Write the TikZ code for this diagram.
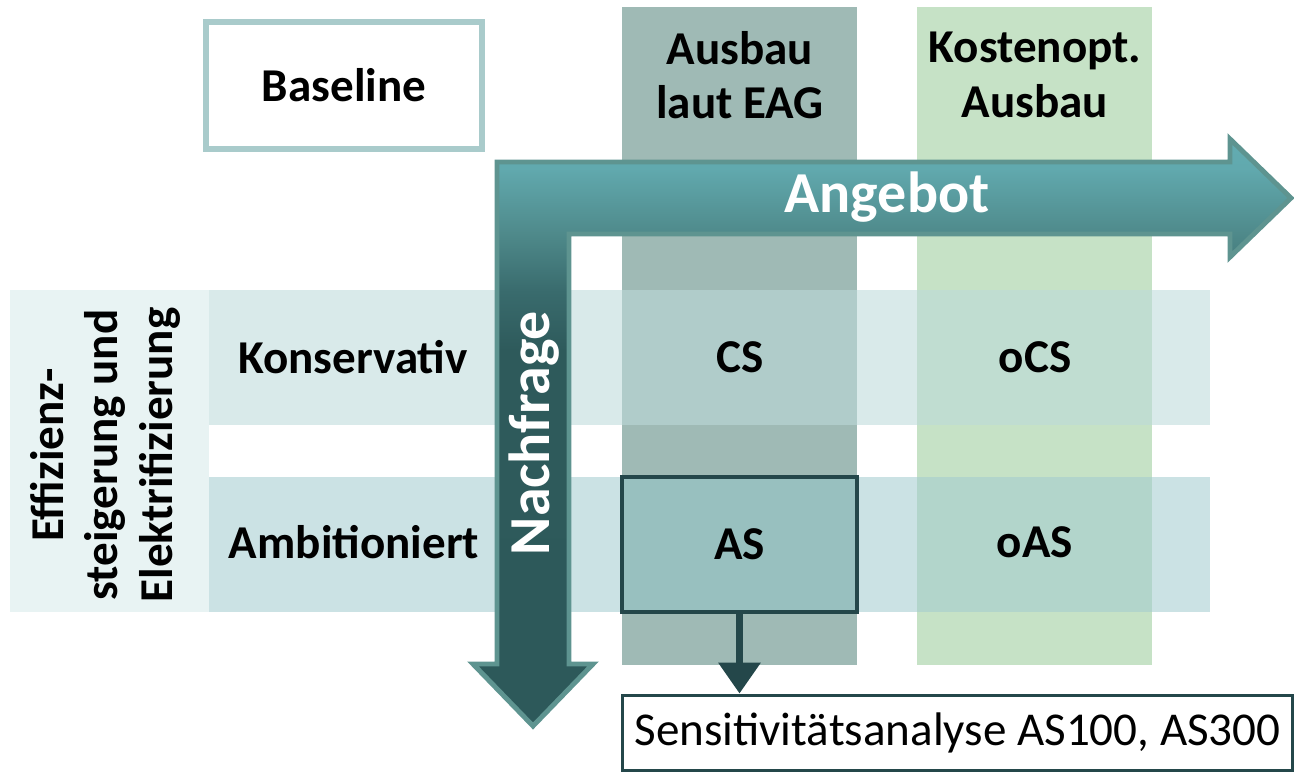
\documentclass[tikz,border=0pt]{standalone}
\usepackage{fontspec}
\setmainfont{Carlito}
\usetikzlibrary{arrows.meta}
\usetikzlibrary{positioning}

\definecolor{eagcol}{RGB}{159,186,181}
\definecolor{optcol}{RGB}{198,226,198}
\definecolor{bandcol}{RGB}{232,243,243}
\definecolor{konscol}{RGB}{189,218,218}
\definecolor{ambicol}{RGB}{163,204,208}
\definecolor{ascol}{RGB}{152,192,191}
\definecolor{basecol}{RGB}{169,203,203}
\definecolor{arrowrim}{RGB}{94,148,144}
\definecolor{darkteal}{RGB}{36,71,74}
\definecolor{shadeA}{RGB}{45,89,90}
\definecolor{shadeB}{RGB}{46,90,91}
\definecolor{shadeC}{RGB}{57,107,109}
\definecolor{shadeD}{RGB}{79,138,139}
\definecolor{shadeE}{RGB}{97,169,174}
\definecolor{shadeF}{RGB}{99,172,177}
\pgfdeclareverticalshading{lshade}{100bp}{color(0bp)=(shadeA); color(25bp)=(shadeA); color(57bp)=(shadeB); color(62bp)=(shadeC); color(67bp)=(shadeD); color(72.5bp)=(shadeE); color(75bp)=(shadeF); color(100bp)=(shadeF)}

\tikzset{
  labeltext/.style={font=\bfseries\fontsize{26.8}{31}\selectfont, align=center},
  arrowtext/.style={font=\bfseries\fontsize{33}{38}\selectfont, text=white},
  basebox/.style={labeltext, draw=basecol, line width=3.4pt, fill=white,
    minimum width=5.52cm, minimum height=2.54cm},
  asbox/.style={labeltext, draw=darkteal, line width=2.3pt, fill=ascol,
    minimum width=4.7cm, minimum height=2.7cm},
  sensbox/.style={font=\fontsize{26.8}{31}\selectfont, draw=darkteal, line width=1.7pt,
    fill=white, minimum width=13.42cm, minimum height=1.5cm},
  connector/.style={draw=darkteal, line width=4pt, -{Triangle[width=0.82cm, length=0.62cm]}}
}

\begin{document}
\begin{tikzpicture}[x=0.02cm, y=-0.02cm]
  \useasboundingbox (0,0) rectangle (1294,772);

  % columns: Ausbau laut EAG / kostenoptimiert
  \fill [eagcol] (622,7) rectangle (857,665);
  \fill [optcol] (917,7) rectangle (1152,665);

  % demand rows
  \fill [bandcol] (10,290) rectangle (209,612);
  \fill [konscol, fill opacity=0.57] (209,290) rectangle (1210,425);
  \fill [ambicol, fill opacity=0.57] (209,477) rectangle (1210,612);

  % L-shaped arrow
  \draw [arrowrim, line width=2.8pt, line join=miter, shading=lshade]
    (497,162) -- (1230,162) -- (1230,139) -- (1291,198) -- (1230,257)
    -- (1230,234) -- (569,234) -- (569,664) -- (593,664) -- (533,726)
    -- (473,664) -- (497,664) -- cycle;
  \node [arrowtext] (angebot) at (887,197) {Angebot};
  \node [arrowtext, rotate=90] (nachfrage) at (534,433) {Nachfrage};

  \node [basebox] (baseline) at (344,85.5) {Baseline};

  \node [labeltext] (eag) at (740,75) {Ausbau\\laut EAG};
  \node [labeltext] (kosten) at (1035,75) {Kostenopt.\\Ausbau};

  \node [labeltext, rotate=90] (effizienz) at (105,455)
    {Effizienz-\\steigerung und\\Elektrifizierung};
  \node [labeltext] (kons) at (353,357) {Konservativ};
  \node [labeltext] (ambi) at (354,542) {Ambitioniert};

  \node [labeltext] (cs) at (740,357) {CS};
  \node [labeltext] (ocs) at (1035,357) {oCS};
  \node [asbox] (as) at (739.5,544.5) {AS};
  \node [labeltext] (oas) at (1035,542) {oAS};

  \node [sensbox] (sens) at (957.5,732.5) {Sensitivitätsanalyse AS100, AS300};
  \draw [connector] (as.south) -- (as.south |- sens.north);
\end{tikzpicture}
\end{document}
